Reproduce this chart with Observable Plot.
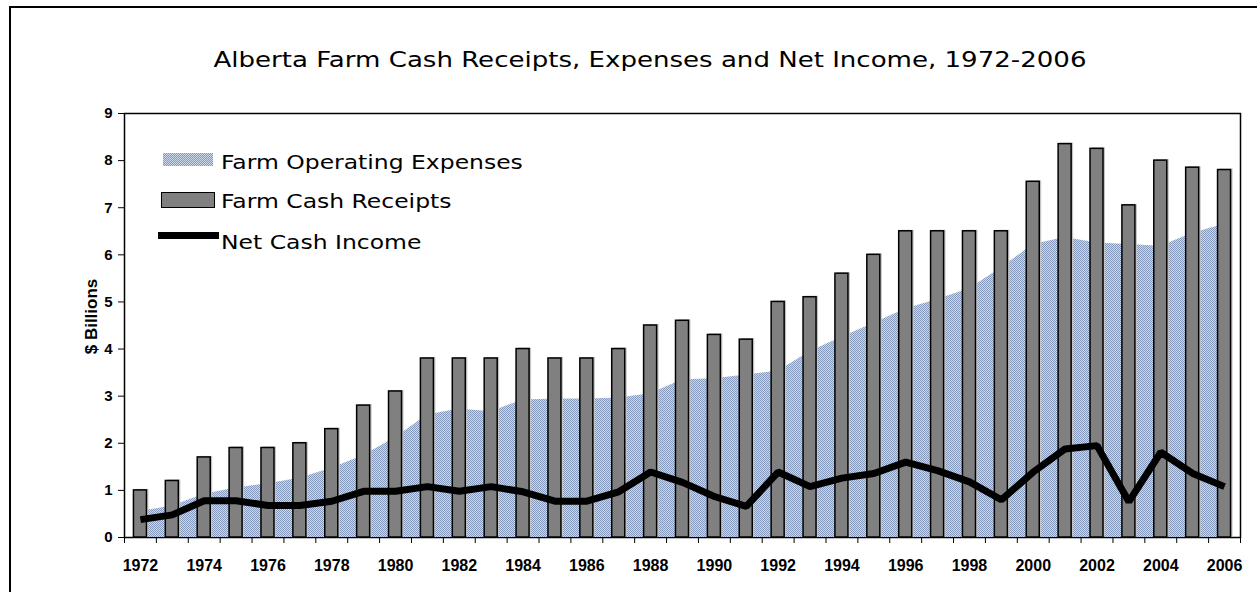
<!DOCTYPE html>
<html><head><meta charset="utf-8">
<script src="https://cdn.jsdelivr.net/npm/d3@7"></script>
<script src="https://cdn.jsdelivr.net/npm/@observablehq/plot@0.6"></script>
<style>
html,body{margin:0;padding:0;background:#fff;overflow:hidden;}
#wrap{position:relative;width:1257px;height:592px;overflow:hidden;background:#fff;}
#border{position:absolute;left:9px;top:6px;width:1400px;height:800px;border:2px solid #000;box-sizing:border-box;pointer-events:none;}
#title{position:relative;height:100px;}
#title span{position:absolute;left:0;width:1300px;top:48px;text-align:center;font-family:"DejaVu Sans";font-size:21px;color:#000;white-space:nowrap;}
#title span i{font-style:normal;display:inline-block;transform:scaleX(1.24);}
.lg{position:absolute;font-family:"DejaVu Sans";font-size:19px;color:#000;white-space:nowrap;transform-origin:0 0;transform:scaleX(1.235);}
.sw{position:absolute;box-sizing:border-box;}
#chart svg{display:block;}
</style></head>
<body>
<div id="wrap">
  <div id="border"></div>
  <div id="title"><span><i>Alberta Farm Cash Receipts, Expenses and Net Income, 1972-2006</i></span></div>
  <div id="chart"></div>
  <div class="sw" style="left:163px;top:153px;width:50px;height:13px;background:repeating-conic-gradient(#8499bb 0 25%, #ccd7e7 0 50%) 0 0/2px 2px;"></div>
  <div class="lg" style="left:221px;top:151px;">Farm Operating Expenses</div>
  <div class="sw" style="left:161px;top:192px;width:54px;height:16px;background:#808080;border:1.5px solid #000;"></div>
  <div class="lg" style="left:221px;top:190px;">Farm Cash Receipts</div>
  <div class="sw" style="left:158px;top:232px;width:61px;height:7px;background:#000;"></div>
  <div class="lg" style="left:221px;top:231px;">Net Cash Income</div>
</div>
<script>
const years = [1972,1973,1974,1975,1976,1977,1978,1979,1980,1981,1982,1983,1984,1985,1986,1987,1988,1989,1990,1991,1992,1993,1994,1995,1996,1997,1998,1999,2000,2001,2002,2003,2004,2005,2006];
const receipts = [1.0,1.2,1.7,1.9,1.9,2.0,2.3,2.8,3.1,3.8,3.8,3.8,4.0,3.8,3.8,4.0,4.5,4.6,4.3,4.2,5.0,5.1,5.6,6.0,6.5,6.5,6.5,6.5,7.55,8.35,8.25,7.05,8.0,7.85,7.8];
const expenses = [0.55,0.67,0.92,1.05,1.14,1.26,1.47,1.74,2.12,2.6,2.73,2.67,2.92,2.94,2.94,2.96,3.05,3.35,3.37,3.45,3.53,3.95,4.25,4.55,4.85,5.05,5.28,5.72,6.22,6.37,6.25,6.22,6.18,6.46,6.65];
const netIncome = [0.38,0.48,0.78,0.78,0.68,0.68,0.77,0.98,0.98,1.08,0.98,1.08,0.97,0.77,0.77,0.97,1.39,1.17,0.87,0.66,1.39,1.08,1.26,1.36,1.6,1.42,1.18,0.8,1.39,1.88,1.95,0.76,1.81,1.36,1.08];
const xTickLabels = [1972,1974,1976,1978,1980,1982,1984,1986,1988,1990,1992,1994,1996,1998,2000,2002,2004,2006];
const yTicks = [0,1,2,3,4,5,6,7,8,9];

const data = years.map((year, i) => ({year, receipts: receipts[i], expenses: expenses[i], net: netIncome[i]}));
const barHalf = 0.204;
const boundaries = years.map(y => y - 0.5).concat([years[years.length - 1] + 0.5]);
const axisFont = "Liberation Sans";

const chart = Plot.plot({
  width: 1257,
  height: 492,
  marginTop: 13,
  marginBottom: 55,
  marginLeft: 124,
  marginRight: 17,
  style: {fontFamily: axisFont, fontSize: "15px", fontWeight: "bold", color: "#000", background: "transparent", overflow: "visible"},
  x: {domain: [1971.5, 2006.5]},
  y: {domain: [0, 9]},
  marks: [
    Plot.frame({stroke: "#000", strokeWidth: 1.5}),
    Plot.areaY(data, {x: "year", y: "expenses", fill: "#a8b9d1"}),
    Plot.rectY(data, {x1: d => d.year - barHalf, x2: d => d.year + barHalf, y: "receipts", fill: "#c4c4c4", dx: 2, dy: -1}),
    Plot.rectY(data, {x1: d => d.year - barHalf, x2: d => d.year + barHalf, y: "receipts", fill: "#808080", stroke: "#000", strokeWidth: 1.5}),
    Plot.lineY(data, {x: "year", y: "net", stroke: "#000", strokeWidth: 7, strokeLinejoin: "miter", strokeLinecap: "butt"}),
    Plot.axisY({fontFamily: axisFont, fontSize: 15, fontWeight: "bold", ticks: yTicks, tickSize: 6, tickPadding: 6, tickFormat: d3.format("d"), label: "$ Billions", labelAnchor: "center", labelArrow: "none", labelOffset: 40}),
    Plot.axisX({ticks: boundaries, tickSize: 6, tickFormat: () => "", label: null}),
    Plot.axisX({fontFamily: axisFont, fontSize: 16, fontWeight: "bold", ticks: xTickLabels, tickSize: 0, tickPadding: 22, tickFormat: d3.format("d"), label: null})
  ]
});
document.getElementById("chart").appendChild(chart);

const svg = d3.select(chart);
const pat = svg.insert("defs", ":first-child").append("pattern")
  .attr("id", "dots").attr("patternUnits", "userSpaceOnUse").attr("width", 2).attr("height", 2);
pat.append("rect").attr("width", 2).attr("height", 2).attr("fill", "#ccd7e7");
pat.append("rect").attr("width", 1).attr("height", 1).attr("fill", "#8499bb");
pat.append("rect").attr("x", 1).attr("y", 1).attr("width", 1).attr("height", 1).attr("fill", "#8499bb");
svg.selectAll('g[aria-label="area"] path').attr("fill", "url(#dots)");
const yTickStrings = yTicks.map(String);
svg.selectAll("text").filter(function() { return yTickStrings.includes(this.textContent.trim()); })
  .attr("font-size", 15).style("font-size", "15px").style("font-family", axisFont).style("font-weight", "bold");
svg.selectAll("text").filter(function() { return this.textContent.includes("Billions"); })
  .attr("dx", 9).style("font-family", axisFont).style("font-size", "17px").style("font-weight", "bold");
</script>
</body></html>
